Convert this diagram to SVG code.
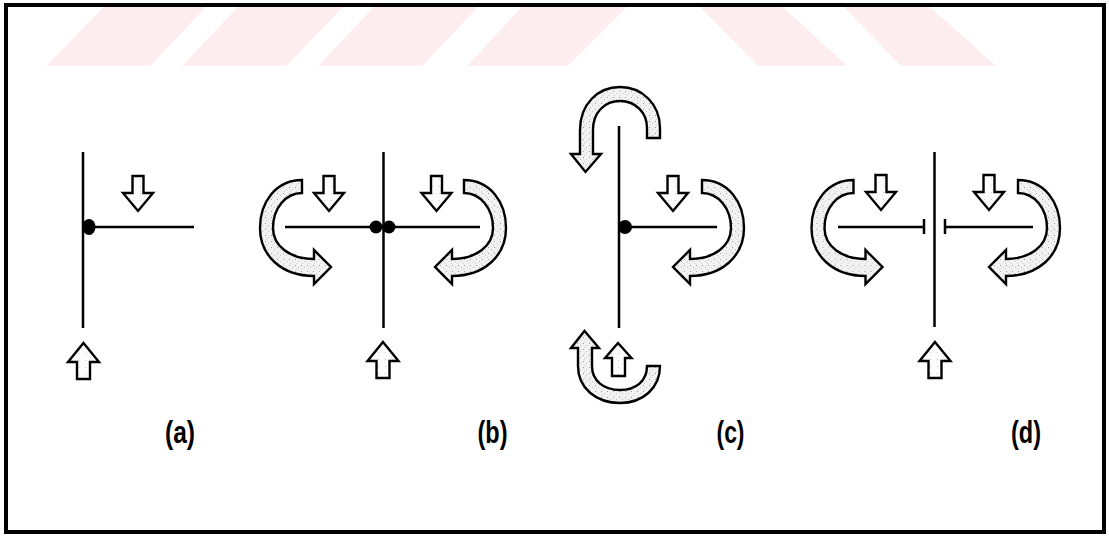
<svg xmlns="http://www.w3.org/2000/svg" width="1109" height="537" viewBox="0 0 1109 537">
<style>
.ln{stroke:#000;stroke-width:2.5;fill:none;stroke-linecap:butt}
.ar{stroke:#000;stroke-width:2.4;stroke-linejoin:miter;fill:url(#stipL)}
.cu{stroke:#000;stroke-width:2.4;stroke-linejoin:miter;fill:url(#stip)}
.dot{fill:#000}
.wm{fill:#fdedef}
.lbl{font-family:"Liberation Sans",Arial,sans-serif;font-size:31px;font-weight:bold;fill:#000;text-anchor:middle}
</style>
<defs>
<pattern id="stip" width="6" height="6" patternUnits="userSpaceOnUse">
<rect width="6" height="6" fill="#f2f2f2"/>
<rect x="1" y="1" width="1" height="1" fill="#a0a0a0"/>
<rect x="4" y="3" width="1" height="1" fill="#c4c4c4"/>
<rect x="2" y="5" width="1" height="1" fill="#d2d2d2"/>
</pattern>
<pattern id="stipL" width="7" height="7" patternUnits="userSpaceOnUse">
<rect width="7" height="7" fill="#fcfcfc"/>
<rect x="2" y="3" width="1" height="1" fill="#c8c8c8"/>
</pattern>
<path id="downA" class="ar" d="M-5.5,-35 L5.5,-35 L5.5,-18 L15,-18 L0,0 L-15,-18 L-5.5,-18 Z"/>
<path id="upA" class="ar" d="M0,0 L15.5,19 L6.5,19 L6.5,36 L-6.5,36 L-6.5,19 L-15.5,19 Z"/>
<path id="curl" class="cu" d="M302,180 C276,180 260,202 260,228 C260,256 282,276 314,276 L314,284 L331,267 L314,250 L314,259 C290,259 273,246 273,228 C273,208 286,193 302,193 Z"/>
</defs>
<rect width="1109" height="537" fill="#fff"/>
<g id="watermark">
<polygon class="wm" points="104,7 206,7 150,66 46,66"/>
<polygon class="wm" points="238,7 343,7 286,66 182,66"/>
<polygon class="wm" points="374,7 478,7 422,66 318,66"/>
<polygon class="wm" points="522,7 627,7 568,66 467,66"/>
<polygon class="wm" points="700,7 783,7 847,66 758,66"/>
<polygon class="wm" points="844,7 930,7 996,66 901,66"/>
</g>
<rect id="frame" x="6" y="5" width="1098" height="527" fill="none" stroke="#000" stroke-width="4"/>
<g id="connectors">
<line class="ln" x1="83" y1="152" x2="83" y2="328" stroke-width="3"/>
<line class="ln" x1="89" y1="227" x2="194" y2="227"/>
<line class="ln" x1="383.5" y1="152" x2="383.5" y2="328"/>
<line class="ln" x1="285" y1="227" x2="480" y2="227"/>
<line class="ln" x1="619" y1="126" x2="619" y2="328"/>
<line class="ln" x1="625" y1="227" x2="717" y2="227"/>
<line class="ln" x1="934.5" y1="152" x2="934.5" y2="327"/>
<line class="ln" x1="838" y1="227" x2="924" y2="227"/>
<line class="ln" x1="924" y1="219" x2="924" y2="234"/>
<line class="ln" x1="945" y1="227" x2="1033" y2="227"/>
<line class="ln" x1="945" y1="219" x2="945" y2="234"/>
</g>
<g id="panel-a">
<ellipse class="dot" cx="89" cy="227" rx="6.5" ry="8"/>
<use href="#downA" x="138" y="211"/>
<use href="#upA" x="83.5" y="343"/>
<text class="lbl" x="180" y="443" textLength="30" lengthAdjust="spacingAndGlyphs">(a)</text>
</g>
<g id="panel-b">
<circle class="dot" cx="376" cy="227" r="6.5"/>
<circle class="dot" cx="389" cy="227" r="6.5"/>
<use href="#curl"/>
<use href="#curl" transform="translate(766,0) scale(-1,1)"/>
<use href="#downA" x="329" y="211"/>
<use href="#downA" x="436.5" y="211"/>
<use href="#upA" x="383" y="342"/>
<text class="lbl" x="492.5" y="443" textLength="30" lengthAdjust="spacingAndGlyphs">(b)</text>
</g>
<g id="panel-c">
<circle class="dot" cx="625" cy="227" r="7"/>
<path class="cu" d="M660,138 L660,128 C660,104 642,87 620,87 C598,87 580,104 580,130 L580,154 L571,154 L585.5,172 L601,154 L593,154 L593,130 C593,112 605,101 620,101 C636,101 647,113 647,128 L647,138 Z"/>
<use href="#curl" transform="translate(1004,0) scale(-1,1)"/>
<path class="cu" d="M571,348 L584.5,331 L599,348 L592,348 L592,366 C592,381 604,390 620,390 C636,390 647,381 647,366 L660,366 C660,388 643,403 620,403 C596,403 578,388 578,366 L578,348 Z"/>
<use href="#downA" x="673" y="211"/>
<path class="ar" d="M618,343 L631.5,358 L625,358 L625,376 L612,376 L612,358 L605,358 Z"/>
<text class="lbl" x="730.5" y="443" textLength="28" lengthAdjust="spacingAndGlyphs">(c)</text>
</g>
<g id="panel-d">
<use href="#curl" transform="translate(551.5,0)"/>
<use href="#curl" transform="translate(1320,0) scale(-1,1)"/>
<use href="#downA" x="881" y="210"/>
<use href="#downA" x="989" y="210"/>
<use href="#upA" x="935" y="342"/>
<text class="lbl" x="1026" y="443" textLength="30" lengthAdjust="spacingAndGlyphs">(d)</text>
</g>
</svg>
